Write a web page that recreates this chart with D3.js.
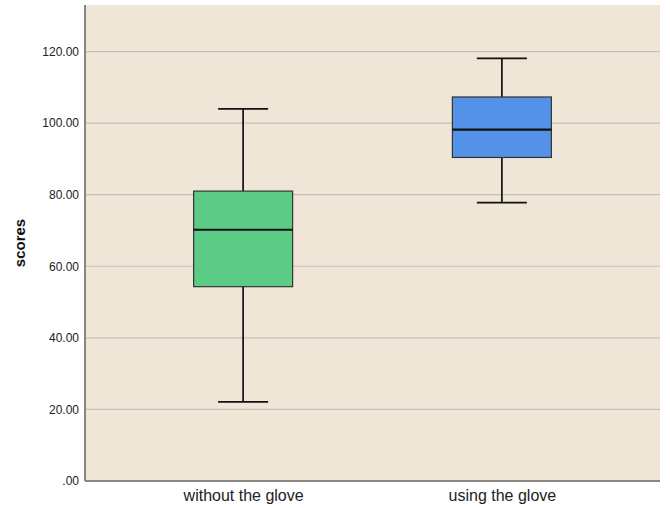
<!DOCTYPE html>
<html>
<head>
<meta charset="utf-8">
<script src="https://cdn.jsdelivr.net/npm/d3@7"></script>
<style>
  body { margin: 0; background: #fff; }
  text { font-family: "Liberation Sans", Arial, sans-serif; }
</style>
</head>
<body>
<div id="chart"></div>
<script>
const groups = ["without the glove", "using the glove"];
const whiskerLow = [22.1, 77.8];
const q1 = [54.3, 90.4];
const median = [70.2, 98.2];
const q3 = [81.0, 107.3];
const whiskerHigh = [104.0, 118.1];
const colors = ["#5ccb86", "#5392e6"];
const yTicks = [0, 20, 40, 60, 80, 100, 120];

function init() {
    const w = 670, h = 508;
    const margin = { top: 5, right: 10, bottom: 27, left: 85 };

    const data = groups.map((g, i) => ({
        group: g, lo: whiskerLow[i], q1: q1[i], med: median[i],
        q3: q3[i], hi: whiskerHigh[i], color: colors[i]
    }));

    const svg = d3.select("#chart").append("svg")
        .attr("width", w)
        .attr("height", h);

    const x = d3.scalePoint()
        .domain(groups)
        .range([margin.left, w - margin.right])
        .padding(0.611);

    const y = d3.scaleLinear()
        .domain([0, 133])
        .range([h - margin.bottom, margin.top]);

    // plot background
    svg.append("rect")
        .attr("x", margin.left)
        .attr("y", margin.top)
        .attr("width", w - margin.right - margin.left)
        .attr("height", h - margin.bottom - margin.top)
        .attr("fill", "#efe6d7");

    // grid lines
    svg.append("g")
        .selectAll("line")
        .data(yTicks.filter(d => d > 0))
        .join("line")
        .attr("x1", margin.left)
        .attr("x2", w - margin.right)
        .attr("y1", d => y(d))
        .attr("y2", d => y(d))
        .attr("stroke", "#c6bfb5")
        .attr("stroke-width", 1.2);

    // y axis
    svg.append("g")
        .attr("transform", `translate(${margin.left},0)`)
        .call(d3.axisLeft(y).tickValues(yTicks).tickSize(0).tickPadding(6)
            .tickFormat(d => d === 0 ? ".00" : d3.format(".2f")(d)))
        .call(g => g.select(".domain").remove())
        .call(g => g.selectAll("text").attr("font-size", 12).attr("fill", "#222"));

    // x axis labels
    svg.append("g")
        .attr("transform", `translate(0,${h - margin.bottom})`)
        .call(d3.axisBottom(x).tickSize(0).tickPadding(9))
        .call(g => g.select(".domain").remove())
        .call(g => g.selectAll("text").attr("font-size", 16).attr("fill", "#222"));

    // axis lines
    svg.append("line")
        .attr("x1", margin.left).attr("x2", margin.left)
        .attr("y1", margin.top).attr("y2", h - margin.bottom)
        .attr("stroke", "#8a8580").attr("stroke-width", 2);
    svg.append("line")
        .attr("x1", margin.left).attr("x2", w - margin.right)
        .attr("y1", h - margin.bottom).attr("y2", h - margin.bottom)
        .attr("stroke", "#8a8580").attr("stroke-width", 2);

    // y axis title
    svg.append("text")
        .attr("transform", `translate(25,${(margin.top + h - margin.bottom) / 2}) rotate(-90)`)
        .attr("text-anchor", "middle")
        .attr("font-size", 15)
        .attr("font-weight", "bold")
        .attr("fill", "#111")
        .text("scores");

    const boxW = 99, capW = 50;
    const box = svg.append("g").selectAll("g")
        .data(data)
        .join("g")
        .attr("transform", d => `translate(${x(d.group)},0)`);

    // whiskers
    box.append("line")
        .attr("y1", d => y(d.hi)).attr("y2", d => y(d.q3))
        .attr("stroke", "#111").attr("stroke-width", 1.7);
    box.append("line")
        .attr("y1", d => y(d.q1)).attr("y2", d => y(d.lo))
        .attr("stroke", "#111").attr("stroke-width", 1.7);
    box.append("line")
        .attr("x1", -capW / 2).attr("x2", capW / 2)
        .attr("y1", d => y(d.hi)).attr("y2", d => y(d.hi))
        .attr("stroke", "#111").attr("stroke-width", 1.7);
    box.append("line")
        .attr("x1", -capW / 2).attr("x2", capW / 2)
        .attr("y1", d => y(d.lo)).attr("y2", d => y(d.lo))
        .attr("stroke", "#111").attr("stroke-width", 1.7);

    // boxes
    box.append("rect")
        .attr("x", -boxW / 2)
        .attr("width", boxW)
        .attr("y", d => y(d.q3))
        .attr("height", d => y(d.q1) - y(d.q3))
        .attr("fill", d => d.color)
        .attr("stroke", "#333")
        .attr("stroke-width", 1.2);

    // median
    box.append("line")
        .attr("x1", -boxW / 2).attr("x2", boxW / 2)
        .attr("y1", d => y(d.med)).attr("y2", d => y(d.med))
        .attr("stroke", "#111").attr("stroke-width", 2.2);
}

window.onload = init;
</script>
</body>
</html>
